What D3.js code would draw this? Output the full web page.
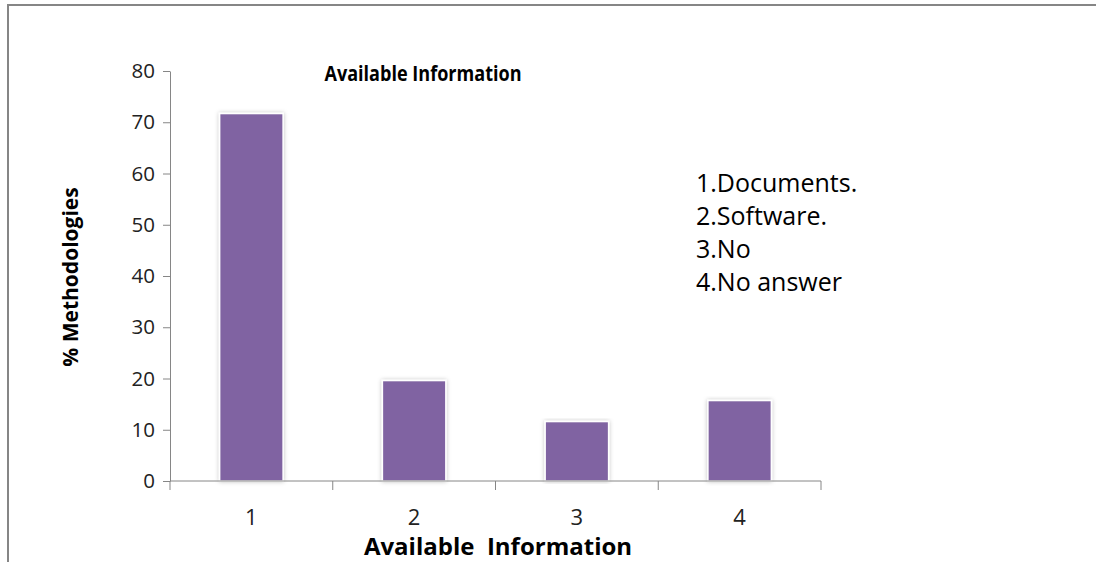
<!DOCTYPE html>
<html lang="en">
<head><meta charset="utf-8">
<title>Available Information</title>
<style>
body { margin: 0; background: #fff; }
svg text { font-family: "Open Sans", "Noto Sans", sans-serif; fill: #000; }
.axis path, .axis line { stroke: #868686; stroke-width: 1px; }
</style>
</head>
<body>
<svg></svg>
<script src="https://d3js.org/d3.v7.min.js"></script>
<script>

var categories = ["1", "2", "3", "4"];
var values = [71.7, 19.6, 11.6, 15.7];
var yTicks = [0, 10, 20, 30, 40, 50, 60, 70, 80];
var legendLines = ["1.Documents.", "2.Software.", "3.No", "4.No answer"];

var width = 1096, height = 562;

var svg = d3.select("svg")
    .attr("width", width)
    .attr("height", height);

// soft shadow like the office chart
var defs = svg.append("defs");
var f = defs.append("filter").attr("id", "shadow")
    .attr("x", "-20%").attr("y", "-5%").attr("width", "140%").attr("height", "110%");
f.append("feDropShadow").attr("dx", 0).attr("dy", 0).attr("stdDeviation", 2)
    .attr("flood-color", "#000").attr("flood-opacity", 0.25);

// outer frame
svg.append("rect")
    .attr("x", 8).attr("y", 5)
    .attr("width", 1100).attr("height", 600)
    .attr("fill", "none")
    .attr("stroke", "#868686")
    .attr("stroke-width", 2);

var x = d3.scaleBand()
    .domain(categories)
    .range([170, 821])
    .paddingInner(0.61)
    .paddingOuter(0.305);

var y = d3.scaleLinear()
    .domain([0, 80])
    .range([481, 71]);

// y axis
var gy = svg.append("g")
    .attr("class", "axis")
    .attr("transform", "translate(170,0)")
    .call(d3.axisLeft(y).tickValues(yTicks).tickSize(7).tickSizeOuter(0).tickPadding(8));
gy.selectAll("text")
    .style("font-size", "20.5px")
    .style("fill", "#222");

// bars
svg.append("g").selectAll("rect")
    .data(values)
    .join("rect")
    .attr("x", function(d, i) { return x(categories[i]); })
    .attr("y", function(d) { return y(d); })
    .attr("width", x.bandwidth())
    .attr("height", function(d) { return y(0) - y(d); })
    .attr("fill", "#8064a2")
    .attr("stroke", "#fff")
    .attr("stroke-width", 1.5)
    .attr("filter", "url(#shadow)");

// x axis, ticks between categories
var xb = d3.scaleLinear().domain([0, categories.length]).range([170, 821]);
var gx = svg.append("g")
    .attr("class", "axis")
    .attr("transform", "translate(0,481)");
gx.append("line").attr("x1", 170).attr("x2", 821).attr("y1", 0).attr("y2", 0);
gx.selectAll("line.tk")
    .data(d3.range(categories.length + 1))
    .join("line")
    .attr("class", "tk")
    .attr("x1", function(d) { return xb(d); })
    .attr("x2", function(d) { return xb(d); })
    .attr("y1", 0).attr("y2", 9);
gx.selectAll("text")
    .data(categories)
    .join("text")
    .attr("x", function(d) { return x(d) + x.bandwidth() / 2; })
    .attr("y", 44)
    .attr("text-anchor", "middle")
    .style("font-size", "22px")
    .style("fill", "#222")
    .text(function(d) { return d; });

// titles
svg.append("text")
    .attr("transform", "translate(423,81) scale(0.86,1)")
    .attr("text-anchor", "middle")
    .attr("font-weight", "bold")
    .style("font-size", "21px")
    .text("Available Information");

svg.append("text")
    .attr("x", 498).attr("y", 555)
    .attr("text-anchor", "middle")
    .attr("font-weight", "bold")
    .style("font-size", "24px")
    .style("white-space", "pre")
    .text("Available  Information");

svg.append("text")
    .attr("transform", "translate(78,277) rotate(-90)")
    .attr("text-anchor", "middle")
    .attr("font-weight", "bold")
    .style("font-size", "21px")
    .text("% Methodologies");

// legend text block
svg.append("g").selectAll("text")
    .data(legendLines)
    .join("text")
    .attr("x", 696)
    .attr("y", function(d, i) { return 192 + i * 33; })
    .style("font-size", "25px")
    .text(function(d) { return d; });

</script>
</body>
</html>
